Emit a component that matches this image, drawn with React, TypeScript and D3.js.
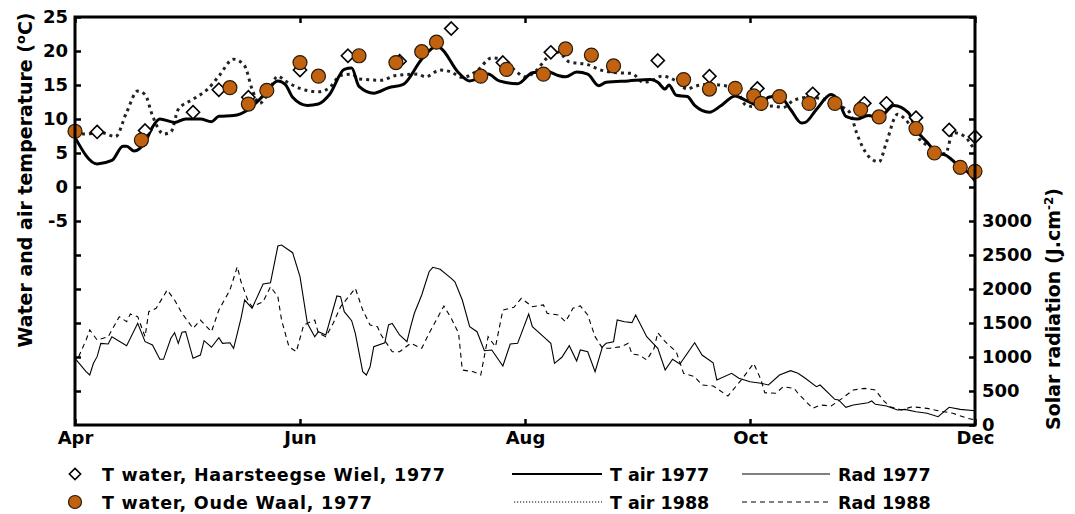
import { useEffect, useRef } from 'react';
import * as d3 from 'd3';

// days are counted from 1 April 1977
const monthDays = [0, 61, 122, 183, 244];
const monthLabels = ['Apr', 'Jun', 'Aug', 'Oct', 'Dec'];

// T water, Haarsteegse Wiel, 1977
const haarDays = [6, 19, 32, 39, 47, 61, 74, 88, 102, 116, 129, 158, 172, 185, 200, 214, 220, 228, 237, 244];
const haarTemp = [8.1, 8.3, 11.0, 14.3, 13.2, 17.2, 19.3, 18.5, 23.3, 18.3, 19.8, 18.6, 16.3, 14.5, 13.7, 12.3, 12.3, 10.2, 8.4, 7.4];

// T water, Oude Waal, 1977
const oudeDays = [0, 18, 42, 47, 52, 61, 66, 77, 87, 94, 98, 110, 117, 127, 133, 140, 146, 165, 172, 179, 184, 186, 191, 199, 206, 213, 218, 228, 233, 240, 244];
const oudeTemp = [8.2, 6.9, 14.6, 12.2, 14.2, 18.3, 16.3, 19.3, 18.3, 19.9, 21.3, 16.3, 17.3, 16.6, 20.3, 19.4, 17.8, 15.8, 14.4, 14.5, 13.4, 12.3, 13.3, 12.3, 12.3, 11.4, 10.3, 8.6, 5.0, 2.9, 2.3];

// T air 1977 (smoothed)
const air77Days = [0, 6, 10, 13, 14, 16, 19, 21, 23, 27, 30, 34, 37, 39, 43, 47, 51, 55, 57, 59, 63, 66, 69, 73, 75, 77, 81, 85, 89, 94, 98, 99, 104, 107, 112, 115, 120, 124, 128, 131, 133, 136, 139, 142, 144, 150, 156, 158, 160, 161, 163, 166, 168, 172, 175, 179, 182, 186, 188, 191, 194, 197, 198, 201, 205, 207, 209, 212, 215, 218, 222, 226, 228, 231, 234, 236, 239, 242, 244];
const air77Temp = [7.3, 3.4, 3.9, 6.0, 6.0, 5.3, 6.6, 8.8, 10.0, 9.5, 10.0, 10.0, 9.6, 10.4, 10.5, 11.4, 13.4, 15.6, 15.1, 13.2, 12.0, 12.2, 13.6, 17.3, 17.5, 14.8, 13.8, 14.6, 15.1, 18.8, 20.7, 20.5, 16.8, 15.6, 16.6, 15.6, 15.2, 16.8, 17.0, 16.4, 16.2, 16.9, 16.6, 14.9, 15.4, 15.6, 15.8, 15.4, 14.4, 15.0, 13.5, 13.3, 12.0, 11.0, 11.9, 13.4, 12.7, 11.9, 13.2, 13.4, 11.4, 9.4, 9.5, 11.4, 13.6, 12.7, 10.4, 10.0, 10.5, 10.2, 12.0, 10.9, 8.5, 6.6, 4.9, 4.7, 3.4, 2.2, 0.9];

// T air 1988 (smoothed)
const air88Days = [0, 3, 7, 11, 14, 17, 19, 21, 24, 26, 28, 32, 36, 39, 43, 46, 48, 50, 52, 55, 57, 61, 66, 69, 72, 75, 77, 83, 87, 93, 95, 99, 102, 105, 109, 113, 115, 119, 122, 125, 128, 131, 134, 139, 142, 147, 151, 154, 157, 159, 163, 166, 168, 172, 177, 179, 182, 186, 189, 192, 195, 199, 203, 207, 210, 212, 215, 218, 220, 223, 225, 229, 233, 236, 238, 241, 244];
const air88Temp = [8.0, 7.8, 8.0, 7.4, 11.0, 14.1, 13.6, 10.5, 7.8, 8.1, 11.4, 12.9, 14.4, 16.3, 18.8, 17.8, 14.4, 12.3, 13.4, 16.3, 15.6, 14.5, 14.0, 14.6, 16.4, 16.6, 15.9, 15.7, 16.4, 16.6, 16.2, 17.2, 16.9, 16.1, 17.1, 19.0, 18.9, 17.3, 16.2, 17.1, 19.0, 19.8, 18.4, 18.0, 17.3, 16.8, 16.7, 15.4, 15.8, 16.3, 15.6, 14.4, 14.8, 15.1, 14.8, 14.5, 12.0, 11.7, 11.9, 11.7, 12.8, 13.2, 12.9, 12.0, 11.0, 7.8, 4.6, 3.7, 6.6, 10.7, 10.0, 7.0, 5.6, 4.9, 8.0, 7.5, 5.3];

// Rad 1977, J.cm-2
const rad77Days = [0, 3, 4, 5, 6, 7, 9, 10, 14, 17, 19, 21, 23, 24, 26, 27, 28, 29, 30, 32, 34, 35, 37, 39, 40, 42, 43, 45, 46, 48, 51, 53, 55, 56, 59, 61, 63, 65, 66, 68, 71, 72, 73, 75, 76, 78, 79, 80, 81, 84, 85, 86, 88, 90, 91, 92, 94, 96, 97, 99, 102, 103, 105, 107, 109, 111, 113, 116, 118, 120, 123, 124, 127, 129, 130, 132, 134, 136, 137, 139, 141, 143, 144, 146, 147, 149, 151, 152, 155, 158, 160, 162, 164, 168, 170, 173, 174, 178, 180, 183, 186, 188, 191, 194, 196, 198, 201, 202, 206, 207, 209, 211, 215, 216, 217, 220, 223, 225, 228, 231, 234, 237, 240, 244];
const rad77 = [981, 784, 735, 907, 1005, 1201, 1191, 1299, 1167, 1495, 1225, 1177, 966, 966, 1275, 1358, 1201, 1363, 1372, 981, 1029, 1240, 1143, 1284, 1201, 1210, 1128, 1569, 1838, 1716, 2074, 2093, 2632, 2647, 2534, 2181, 1495, 1299, 1372, 1324, 1897, 1887, 1666, 1534, 1348, 784, 735, 857, 1151, 1210, 1471, 1495, 1324, 1225, 1446, 1643, 1912, 2254, 2319, 2290, 2157, 2107, 1838, 1446, 1372, 1093, 1103, 868, 1191, 1201, 1632, 1446, 1299, 1201, 907, 996, 1167, 941, 1103, 1078, 784, 1151, 1201, 1225, 1544, 1519, 1505, 1618, 1299, 1128, 809, 966, 897, 1210, 1029, 916, 662, 760, 687, 637, 613, 588, 735, 799, 760, 687, 563, 588, 378, 368, 260, 294, 328, 353, 304, 279, 221, 230, 196, 172, 122, 260, 230, 210];

// Rad 1988, J.cm-2
const rad88Days = [1, 3, 4, 6, 9, 10, 12, 14, 15, 17, 19, 20, 22, 25, 27, 29, 32, 34, 37, 39, 42, 44, 45, 47, 48, 51, 53, 55, 56, 58, 60, 62, 65, 66, 68, 70, 72, 76, 78, 80, 82, 83, 86, 88, 91, 94, 96, 100, 102, 104, 105, 108, 110, 112, 114, 116, 119, 121, 124, 127, 128, 131, 133, 135, 137, 139, 141, 143, 145, 148, 150, 151, 153, 155, 157, 158, 160, 163, 165, 168, 170, 173, 177, 178, 181, 184, 186, 187, 190, 192, 195, 196, 200, 202, 205, 208, 211, 214, 217, 219, 221, 224, 227, 231, 234, 238, 242, 244];
const rad88 = [1005, 1250, 1397, 1250, 1299, 1397, 1593, 1519, 1632, 1593, 1299, 1666, 1716, 1985, 1838, 1643, 1422, 1544, 1372, 1691, 1985, 2328, 2107, 1813, 1740, 1813, 2034, 1887, 1544, 1151, 1078, 1471, 1544, 1348, 1299, 1495, 1740, 2010, 1691, 1471, 1446, 1324, 1078, 1078, 1201, 1128, 1348, 1750, 1569, 1348, 809, 784, 735, 1299, 1151, 1691, 1731, 1863, 1740, 1765, 1643, 1618, 1519, 1716, 1750, 1618, 1299, 1128, 1128, 1151, 1201, 1044, 1029, 956, 1128, 1358, 1225, 1078, 760, 710, 588, 574, 426, 490, 687, 907, 662, 475, 466, 563, 539, 466, 245, 294, 279, 392, 515, 539, 515, 368, 269, 221, 269, 245, 210, 172, 98, 74];

const tempTicks = [-30, -25, -20, -15, -10, -5, 0, 5, 10, 15, 20, 25];
const radTicks = [0, 500, 1000, 1500, 2000, 2500, 3000, 3500, 4000, 4500, 5000, 5500, 6000];

const W = 1075;
const H = 514;
const FONT = "'DejaVu Sans', sans-serif";

const App = () => {
  const ref = useRef<SVGSVGElement>(null);

  useEffect(() => {
    const svg = d3.select(ref.current);
    svg.selectAll('*').remove();

    const margin = { top: 17, right: 100, bottom: 89, left: 75 };
    const x0 = margin.left;
    const x1 = W - margin.right;
    const y0 = margin.top;
    const y1 = H - margin.bottom;

    const x = d3.scaleLinear().domain([0, 244]).range([x0, x1]);
    const yT = d3.scaleLinear().domain([-35, 25]).range([y1, y0]);
    const yR = d3.scaleLinear().domain([0, 6000]).range([y1, y0]);

    const styleAxis = (g) => {
      g.select('.domain').remove();
      g.selectAll('.tick line').attr('stroke', '#000').attr('stroke-width', 2.5);
      g.selectAll('.tick text')
        .attr('font-family', FONT)
        .attr('font-weight', 'bold')
        .attr('font-size', 18)
        .attr('fill', '#000');
    };

    // radiation lines (thin)
    const radLine = (days: number[], vals: number[]) =>
      d3.line<number>().x((_, i) => x(days[i])).y((d) => yR(d))(vals);

    svg.append('path')
      .attr('d', radLine(rad77Days, rad77))
      .attr('fill', 'none').attr('stroke', '#000').attr('stroke-width', 1.1);
    svg.append('path')
      .attr('d', radLine(rad88Days, rad88))
      .attr('fill', 'none').attr('stroke', '#000').attr('stroke-width', 1.1)
      .attr('stroke-dasharray', '5 4');

    // air temperature lines (thick)
    const tLine = (days: number[], vals: number[]) =>
      d3.line<number>().x((_, i) => x(days[i])).y((d) => yT(d)).curve(d3.curveMonotoneX)(vals);

    svg.append('path')
      .attr('d', tLine(air88Days, air88Temp))
      .attr('fill', 'none').attr('stroke', '#222').attr('stroke-width', 3)
      .attr('stroke-dasharray', '3 4');
    svg.append('path')
      .attr('d', tLine(air77Days, air77Temp))
      .attr('fill', 'none').attr('stroke', '#000').attr('stroke-width', 3);

    // water temperature markers
    const diamond = d3.symbol().type(d3.symbolDiamond2).size(110)();
    svg.append('g').selectAll('path')
      .data(haarTemp)
      .join('path')
      .attr('d', diamond)
      .attr('transform', (d, i) => `translate(${x(haarDays[i])},${yT(d)})`)
      .attr('fill', '#fff').attr('stroke', '#000').attr('stroke-width', 1.6);

    svg.append('g').selectAll('circle')
      .data(oudeTemp)
      .join('circle')
      .attr('cx', (_, i) => x(oudeDays[i]))
      .attr('cy', (d) => yT(d))
      .attr('r', 7)
      .attr('fill', '#c0620f').attr('stroke', '#2a1a08').attr('stroke-width', 1.2);

    // axes, ticks pointing inward
    svg.append('g')
      .attr('transform', `translate(${x0},0)`)
      .call(d3.axisLeft(yT).tickValues(tempTicks).tickSizeInner(-6).tickSizeOuter(0).tickPadding(7)
        .tickFormat((d) => (+d >= -5 ? String(d).replace('\u2212', '-') : '')))
      .call(styleAxis);

    svg.append('g')
      .attr('transform', `translate(${x1},0)`)
      .call(d3.axisRight(yR).tickValues(radTicks).tickSizeInner(-6).tickSizeOuter(0).tickPadding(7)
        .tickFormat((d) => (+d <= 3000 ? String(d) : '')))
      .call(styleAxis);

    svg.append('g')
      .attr('transform', `translate(0,${y1})`)
      .call(d3.axisBottom(x).tickValues(monthDays).tickSizeInner(-6).tickSizeOuter(0).tickPadding(6)
        .tickFormat((_, i) => monthLabels[i]))
      .call(styleAxis);

    svg.append('g')
      .attr('transform', `translate(0,${y0})`)
      .call(d3.axisTop(x).tickValues(monthDays).tickSizeInner(-6).tickSizeOuter(0).tickFormat(() => ''))
      .call(styleAxis);

    svg.append('rect')
      .attr('x', x0).attr('y', y0)
      .attr('width', x1 - x0).attr('height', y1 - y0)
      .attr('fill', 'none').attr('stroke', '#000').attr('stroke-width', 3);

    // axis titles
    const lt = svg.append('text')
      .attr('transform', `translate(32,${(10 + 350) / 2}) rotate(-90)`)
      .attr('text-anchor', 'middle')
      .attr('font-family', FONT).attr('font-weight', 'bold').attr('font-size', 19);
    lt.append('tspan').text('Water and air temperature (');
    lt.append('tspan').attr('font-size', 13).attr('dy', -7).text('o');
    lt.append('tspan').attr('dy', 7).text('C)');

    const rt = svg.append('text')
      .attr('transform', `translate(1060,${(430 + 188) / 2}) rotate(-90)`)
      .attr('text-anchor', 'middle')
      .attr('font-family', FONT).attr('font-weight', 'bold').attr('font-size', 19);
    rt.append('tspan').text('Solar radiation (J.cm');
    rt.append('tspan').attr('font-size', 12).attr('dy', -7).text('-2');
    rt.append('tspan').attr('dy', 7).text(')');

    // legend
    const lg = svg.append('g')
      .attr('font-family', FONT).attr('font-weight', 'bold').attr('font-size', 17.5);
    const row1 = 474;
    const row2 = 502;
    lg.append('path')
      .attr('d', d3.symbol().type(d3.symbolDiamond2).size(80)())
      .attr('transform', `translate(75,${row1})`)
      .attr('fill', '#fff').attr('stroke', '#000').attr('stroke-width', 1.6);
    lg.append('circle').attr('cx', 75).attr('cy', row2).attr('r', 6.5)
      .attr('fill', '#c0620f').attr('stroke', '#2a1a08').attr('stroke-width', 1.2);
    lg.append('text').attr('x', 102).attr('y', row1 + 7)
      .attr('textLength', 343).attr('lengthAdjust', 'spacing')
      .text('T water, Haarsteegse Wiel, 1977');
    lg.append('text').attr('x', 102).attr('y', row2 + 7)
      .attr('textLength', 270).attr('lengthAdjust', 'spacing')
      .text('T water, Oude Waal, 1977');

    lg.append('line').attr('x1', 512).attr('x2', 602).attr('y1', row1).attr('y2', row1)
      .attr('stroke', '#000').attr('stroke-width', 2);
    lg.append('line').attr('x1', 514).attr('x2', 602).attr('y1', row2).attr('y2', row2)
      .attr('stroke', '#000').attr('stroke-width', 1.2).attr('stroke-dasharray', '1.2 1.8');
    lg.append('text').attr('x', 610).attr('y', row1 + 7).text('T air 1977');
    lg.append('text').attr('x', 610).attr('y', row2 + 7).text('T air 1988');

    lg.append('line').attr('x1', 742).attr('x2', 830).attr('y1', row1).attr('y2', row1)
      .attr('stroke', '#000').attr('stroke-width', 1);
    lg.append('line').attr('x1', 742).attr('x2', 830).attr('y1', row2).attr('y2', row2)
      .attr('stroke', '#000').attr('stroke-width', 1).attr('stroke-dasharray', '5 4');
    lg.append('text').attr('x', 838).attr('y', row1 + 7).text('Rad 1977');
    lg.append('text').attr('x', 838).attr('y', row2 + 7).text('Rad 1988');
  }, []);

  return (
    <svg
      ref={ref}
      width={W}
      height={H}
      style={{ position: 'absolute', left: 0, top: 0, background: '#fff' }}
    />
  );
};

export default App;
